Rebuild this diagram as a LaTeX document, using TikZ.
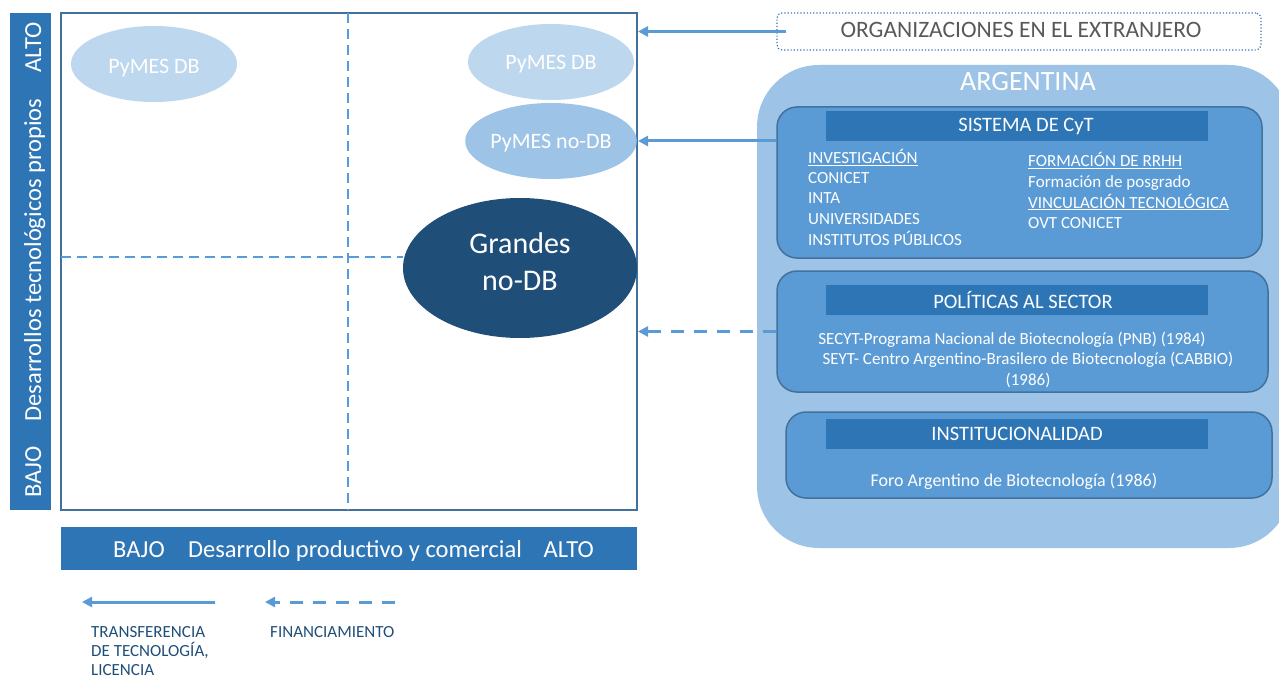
\documentclass[tikz,border=0pt]{standalone}
\usepackage{fontspec}
\setmainfont{Carlito}
\usetikzlibrary{shapes.geometric,arrows.meta}
\definecolor{barblue}{HTML}{2E75B6}
\definecolor{edgeblue}{HTML}{41719C}
\definecolor{midblue}{HTML}{5B9BD5}
\definecolor{paleblue}{HTML}{BDD7EE}
\definecolor{lightblue}{HTML}{9DC3E6}
\definecolor{darkblue}{HTML}{1F4E79}
\definecolor{txtgray}{HTML}{595959}
\definecolor{legblue}{HTML}{1F4E79}
\tikzset{
  ell/.style={ellipse, inner sep=0pt, text=white, font=\fontsize{22}{24}\selectfont},
  barbox/.style={fill=barblue, draw=none, inner sep=0pt, text=white},
  axistext/.style={text=white, inner sep=0pt, font=\fontsize{24.5}{26}\selectfont},
  panel/.style={fill=midblue, draw=edgeblue, line width=1.5pt, rounded corners=20pt, inner sep=0pt},
  header/.style={fill=barblue, draw=none, inner sep=0pt, minimum width=382, minimum height=30, text=white, font=\fontsize{20.5}{22}\selectfont},
  body/.style={text=white, font=\fontsize{17}{20}\selectfont, inner sep=0pt, anchor=base west},
  bodyc/.style={text=white, font=\fontsize{17}{20}\selectfont, inner sep=0pt, anchor=base},
  legtext/.style={text=legblue, font=\fontsize{17}{20}\selectfont, inner sep=0pt, anchor=base west},
  arr/.style={draw=midblue, line width=3pt, -{Triangle[length=10pt,width=10pt]}},
  dsh/.style={draw=midblue, line width=2.5pt, dash pattern=on 10pt off 6pt},
  darr/.style={arr, dash pattern=on 13pt off 10pt},
}
\begin{document}
\begin{tikzpicture}[x=1pt,y=-1pt]
\useasboundingbox (0,0) rectangle (1279,679);
% left axis bar
\node[barbox, minimum width=41, minimum height=497] (ybar) at (30.5,261.5) {};
\node[axistext, rotate=90, anchor=base west] (ylo) at (41,498) {BAJO};
\node[axistext, rotate=90, anchor=base east] (yhi) at (41,22) {ALTO};
\node[axistext, rotate=90, anchor=base] (ymid) at (41,260) {Desarrollos tecnológicos propios};
% main box
\node[draw=edgeblue, line width=2pt, fill=white, minimum width=576, minimum height=497, inner sep=0pt] (main) at (349,261.5) {};
\coordinate (vtop) at (348,13);
\coordinate (vbot) at (348,510);
\draw[dsh] (vtop) -- (vbot);
% ellipses
\node[ell, fill=darkblue, minimum width=234, minimum height=140, font=\fontsize{30}{37}\selectfont, align=center] (gr) at (520,268) {\smash{\raisebox{-3.5pt}{Grandes}}\\\smash{\raisebox{-3.5pt}{no-DB}}};
\coordinate (hleft) at (61,257);
\draw[dsh] (hleft) -- (hleft -| gr.west);
\node[ell, fill=paleblue, minimum width=166, minimum height=76] (pdbl) at (154,64) {\smash{\raisebox{-10pt}{PyMES DB}}};
\node[ell, fill=paleblue, minimum width=166, minimum height=76] (pdbr) at (551,62) {\smash{\raisebox{-7.5pt}{PyMES DB}}};
\node[ell, fill=lightblue, minimum width=164, minimum height=76] (pndb) at (551,141) {\smash{\raisebox{-8pt}{PyMES no-DB}}};
% bottom bar
\node[barbox, minimum width=576, minimum height=43] (xbar) at (349,548.5) {};
\node[axistext, anchor=base west] (xlo) at (113,557) {BAJO};
\node[axistext, anchor=base east] (xhi) at (594,557) {ALTO};
\node[axistext, anchor=base] (xmid) at (355,557) {Desarrollo productivo y comercial};
% organizaciones
\node[draw=barblue, dotted, line width=1.2pt, rounded corners=5pt, minimum width=484, minimum height=37, inner sep=0pt] (org) at (1019,31.5) {};
\node[text=txtgray, font=\fontsize{23.5}{25}\selectfont, inner sep=0pt, anchor=base] (orgt) at (1021,37.5) {ORGANIZACIONES EN EL EXTRANJERO};
% argentina
\node[fill=lightblue, rounded corners=62pt, minimum width=534, minimum height=483, inner sep=0pt] (arg) at (1024,306.5) {};
\node[text=white, font=\fontsize{28}{30}\selectfont, inner sep=0pt, anchor=base] (argt) at (1028,91) {ARGENTINA};
% sistema cyt
\node[panel, minimum width=485, minimum height=151] (cyt) at (1019.5,182.5) {};
\node[header] (cyth) at (1017,126.5) {\hspace*{18pt}SISTEMA DE CyT};
\node[body] (c1) at (808,164) {\underline{INVESTIGACIÓN}};
\node[body] (c2) at (808,184) {CONICET};
\node[body] (c3) at (808,204) {INTA};
\node[body] (c4) at (808,224) {UNIVERSIDADES};
\node[body] (c5) at (808,245) {INSTITUTOS PÚBLICOS};
\node[body] (d1) at (1028,167) {\underline{FORMACIÓN DE RRHH}};
\node[body] (d2) at (1028,188) {Formación de posgrado};
\node[body] (d3) at (1028,208) {\underline{VINCULACIÓN TECNOLÓGICA}};
\node[body] (d4) at (1028,228) {OVT CONICET};
% politicas
\node[panel, minimum width=491, minimum height=121] (pol) at (1022.5,331.5) {};
\node[header] (polh) at (1017,300) {\hspace*{12pt}POLÍTICAS AL SECTOR};
\node[bodyc] (p1) at (1012,344) {SECYT-Programa Nacional de Biotecnología (PNB) (1984)};
\node[bodyc] (p2) at (1028,364) {SEYT- Centro Argentino-Brasilero de Biotecnología (CABBIO)};
\node[bodyc] (p3) at (1028,385) {(1986)};
% institucionalidad
\node[panel, minimum width=486, minimum height=86] (ins) at (1029,455) {};
\node[header] (insh) at (1017,434) {INSTITUCIONALIDAD};
\node[bodyc, font=\fontsize{18}{20}\selectfont] (inst) at (1014,486) {Foro Argentino de Biotecnología (1986)};
% connectors
\draw[arr] ([xshift=10pt]org.west) -- (org.west -| main.east);
\draw[arr] (cyt.west |- pndb.east) -- (main.east |- pndb.east);
\draw[darr] (pol.west) -- (main.east |- pol.west);
% legend
\coordinate (l1s) at (215,602);
\coordinate (l1e) at (82,602);
\coordinate (l2s) at (395,602);
\coordinate (l2e) at (265,602);
\draw[arr] (l1s) -- (l1e);
\draw[darr] (l2s) -- (l2e);
\node[legtext] (lt1) at (91,637) {TRANSFERENCIA};
\node[legtext] (lt2) at (91,656) {DE TECNOLOGÍA,};
\node[legtext] (lt3) at (91,675) {LICENCIA};
\node[legtext] (lt4) at (270,637) {FINANCIAMIENTO};
\end{tikzpicture}
\end{document}
